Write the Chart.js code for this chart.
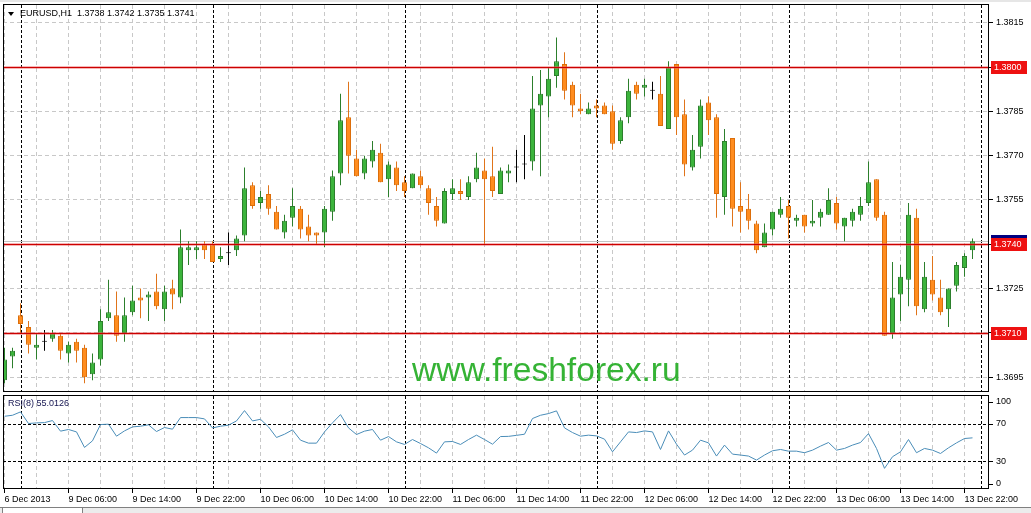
<!DOCTYPE html>
<html>
<head>
<meta charset="utf-8">
<script src="https://cdn.jsdelivr.net/npm/chart.js@4.4.1/dist/chart.umd.min.js"></script>
<style>
  html, body { margin: 0; padding: 0; background: #fff; }
  body { width: 1031px; height: 513px; position: relative; overflow: hidden; }
  #priceWrap { position: absolute; left: 0; top: 0; }
  #rsiWrap { position: absolute; left: 0; top: 393px; }
</style>
</head>
<body>
<div id="priceWrap"><canvas id="priceChart" width="1031" height="393"></canvas></div>
<div id="rsiWrap"><canvas id="rsiChart" width="1031" height="120"></canvas></div>
<script>
// EURUSD H1, 6 Dec 22:00 .. 13 Dec 23:00 (one bar per hour)
const opens = [
  1.3694, 1.3702, 1.3716, 1.3712, 1.3705, 1.3707, 1.3708, 1.3709, 1.3703, 1.3707,
  1.3705, 1.3696, 1.3701, 1.3715, 1.3716, 1.3710, 1.3717, 1.3722, 1.3722, 1.3724,
  1.3718, 1.3725, 1.3722, 1.3738, 1.3738, 1.3740, 1.3740, 1.3735, 1.3737, 1.3738,
  1.3743, 1.3760, 1.3754, 1.3757, 1.3751, 1.3744, 1.3749, 1.3752, 1.3746, 1.3744,
  1.3744, 1.3751, 1.3764, 1.3783, 1.3769, 1.3764, 1.3768, 1.3771, 1.3762, 1.3766,
  1.3761, 1.3759, 1.3763, 1.3759, 1.3753, 1.3747, 1.3757, 1.3758, 1.3756, 1.3762,
  1.3765, 1.3763, 1.3757, 1.3764, 1.3766, 1.3767, 1.3768, 1.3787, 1.3790, 1.3797,
  1.3801, 1.3794, 1.3786, 1.3784, 1.3787, 1.3787, 1.3785, 1.3775, 1.3783, 1.3794,
  1.3793, 1.3792, 1.3791, 1.3779, 1.3801, 1.3784, 1.3766, 1.3773, 1.3788, 1.3783,
  1.3756, 1.3776, 1.3753, 1.3752, 1.3747, 1.3739, 1.3745, 1.3750, 1.3753, 1.3748,
  1.3750, 1.3747, 1.3749, 1.3750, 1.3754, 1.3746, 1.3748, 1.3750, 1.3754, 1.3762,
  1.3750, 1.3710, 1.3723, 1.3728, 1.3749, 1.3718, 1.3728, 1.3722, 1.3718, 1.3726,
  1.3732, 1.3738
];
const highs = [
  1.3705, 1.3705, 1.3720, 1.3714, 1.3710, 1.3711, 1.3711, 1.3710, 1.3707, 1.3708,
  1.3706, 1.3703, 1.3718, 1.3728, 1.3724, 1.3722, 1.3726, 1.3725, 1.3724, 1.3730,
  1.3726, 1.3728, 1.3745, 1.3741, 1.3741, 1.3741, 1.3741, 1.3739, 1.3744, 1.3743,
  1.3766, 1.3761, 1.3758, 1.3760, 1.3753, 1.3750, 1.3759, 1.3753, 1.3750, 1.3744,
  1.3753, 1.3765, 1.3791, 1.3795, 1.3772, 1.3770, 1.3775, 1.3774, 1.3768, 1.3768,
  1.3763, 1.3764, 1.3765, 1.3760, 1.3756, 1.3759, 1.3762, 1.3762, 1.3763, 1.3771,
  1.3769, 1.3773, 1.3766, 1.3767, 1.3772, 1.3777, 1.3797, 1.3799, 1.3800, 1.3810,
  1.3805, 1.3795, 1.3791, 1.3788, 1.3789, 1.3788, 1.3787, 1.3783, 1.3796, 1.3795,
  1.3796, 1.3795, 1.3797, 1.3802, 1.3801, 1.3789, 1.3777, 1.3789, 1.3790, 1.3784,
  1.3779, 1.3776, 1.3761, 1.3757, 1.3748, 1.3747, 1.3751, 1.3756, 1.3755, 1.3750,
  1.3750, 1.3755, 1.3752, 1.3759, 1.3756, 1.3749, 1.3752, 1.3756, 1.3768, 1.3762,
  1.3751, 1.3734, 1.3733, 1.3754, 1.3752, 1.3734, 1.3736, 1.3728, 1.3725, 1.3734,
  1.3737, 1.3742
];
const lows = [
  1.3693, 1.3698, 1.3710, 1.3703, 1.3701, 1.3704, 1.3707, 1.3701, 1.3700, 1.3700,
  1.3693, 1.3694, 1.3699, 1.3714, 1.3707, 1.3707, 1.3716, 1.3715, 1.3714, 1.3718,
  1.3714, 1.3718, 1.3720, 1.3733, 1.3735, 1.3735, 1.3734, 1.3734, 1.3733, 1.3736,
  1.3741, 1.3752, 1.3752, 1.3750, 1.3745, 1.3742, 1.3746, 1.3742, 1.3741, 1.3740,
  1.3739, 1.3748, 1.3760, 1.3764, 1.3763, 1.3762, 1.3766, 1.3761, 1.3756, 1.3758,
  1.3756, 1.3759, 1.3759, 1.3750, 1.3746, 1.3747, 1.3755, 1.3755, 1.3755, 1.3761,
  1.3740, 1.3756, 1.3757, 1.3761, 1.3761, 1.3762, 1.3765, 1.3763, 1.3783, 1.3793,
  1.3789, 1.3783, 1.3784, 1.3784, 1.3783, 1.3784, 1.3772, 1.3774, 1.3781, 1.3789,
  1.3790, 1.3789, 1.3780, 1.3779, 1.3777, 1.3763, 1.3765, 1.3769, 1.3777, 1.3749,
  1.3750, 1.3746, 1.3744, 1.3745, 1.3737, 1.3739, 1.3743, 1.3749, 1.3742, 1.3746,
  1.3744, 1.3746, 1.3746, 1.3750, 1.3745, 1.3741, 1.3746, 1.3748, 1.3753, 1.3748,
  1.3709, 1.3708, 1.3714, 1.3719, 1.3716, 1.3717, 1.3721, 1.3716, 1.3712, 1.3724,
  1.3729, 1.3735
];
const closes = [
  1.3701, 1.3704, 1.3713, 1.3706, 1.3706, 1.3707, 1.3710, 1.3704, 1.3706, 1.3704,
  1.3695, 1.3700, 1.3714, 1.3717, 1.3709, 1.3716, 1.3721, 1.3721, 1.3723, 1.3719,
  1.3724, 1.3723, 1.3739, 1.3739, 1.3739, 1.3738, 1.3734, 1.3736, 1.3737, 1.3742,
  1.3759, 1.3753, 1.3756, 1.3752, 1.3745, 1.3748, 1.3753, 1.3745, 1.3743, 1.3743,
  1.3752, 1.3763, 1.3782, 1.3770, 1.3763, 1.3769, 1.3772, 1.3761, 1.3767, 1.3760,
  1.3758, 1.3764, 1.3760, 1.3754, 1.3748, 1.3758, 1.3759, 1.3757, 1.3761, 1.3766,
  1.3762, 1.3758, 1.3765, 1.3765, 1.3766, 1.3767, 1.3786, 1.3791, 1.3796, 1.3802,
  1.3792, 1.3787, 1.3785, 1.3786, 1.3786, 1.3784, 1.3774, 1.3782, 1.3792, 1.3791,
  1.3794, 1.3792, 1.3780, 1.3800, 1.3783, 1.3767, 1.3772, 1.3787, 1.3782, 1.3757,
  1.3775, 1.3752, 1.3751, 1.3748, 1.3738, 1.3744, 1.3751, 1.3752, 1.3749, 1.3749,
  1.3746, 1.3748, 1.3751, 1.3755, 1.3747, 1.3749, 1.3751, 1.3753, 1.3761, 1.3749,
  1.3709, 1.3722, 1.3729, 1.3750, 1.3719, 1.3729, 1.3723, 1.3717, 1.3725, 1.3733,
  1.3736, 1.3741
];
const rsiValues = [
  78.2, 79.3, 82.9, 70.4, 71.1, 71.4, 73.6, 62.2, 64.0, 61.4,
  44.7, 51.8, 69.3, 69.7, 56.8, 62.5, 66.8, 67.5, 69.0, 61.8,
  66.1, 64.3, 76.8, 76.8, 76.8, 75.4, 65.7, 67.5, 68.6, 73.2,
  84.3, 73.2, 75.0, 66.8, 55.4, 58.9, 63.6, 52.5, 49.3, 49.3,
  61.4, 71.1, 80.0, 65.7, 58.6, 62.2, 64.0, 52.5, 56.4, 50.7,
  47.9, 53.2, 48.9, 44.3, 38.6, 50.7, 51.1, 47.9, 53.2, 57.9,
  53.2, 48.2, 56.4, 56.6, 57.7, 58.9, 75.8, 79.3, 81.1, 84.0,
  65.7, 60.7, 56.8, 57.9, 57.1, 53.6, 40.0, 50.7, 61.4, 60.7,
  62.5, 61.4, 42.5, 62.5, 48.2, 36.5, 41.8, 52.5, 49.6, 35.4,
  47.2, 37.5, 36.5, 35.4, 31.1, 36.5, 41.1, 42.5, 40.7, 40.7,
  39.0, 41.8, 46.1, 50.0, 41.8, 43.6, 47.2, 50.0, 59.6, 43.6,
  22.2, 34.7, 40.0, 53.2, 39.0, 43.6, 41.8, 38.2, 44.3, 49.6,
  54.3, 55.0
];
// one label every 8 bars
const timeLabels = ['6 Dec 2013', '9 Dec 06:00', '9 Dec 14:00', '9 Dec 22:00', '10 Dec 06:00',
  '10 Dec 14:00', '10 Dec 22:00', '11 Dec 06:00', '11 Dec 14:00', '11 Dec 22:00', '12 Dec 06:00',
  '12 Dec 14:00', '12 Dec 22:00', '13 Dec 06:00', '13 Dec 14:00', '13 Dec 22:00'];
const priceTicks = [1.3695, 1.3710, 1.3725, 1.3740, 1.3755, 1.3770, 1.3785, 1.3800, 1.3815];
const levelPrices = [1.3800, 1.3740, 1.3710];
const bidPrice = 1.3741;
const rsiLevels = [30, 70];
const rsiTicks = [0, 30, 70, 100];
const daySeparators = [2, 26, 50, 74, 98, 122]; // first bar of each day
const headerText = 'EURUSD,H1  1.3738 1.3742 1.3735 1.3741';
const rsiText = 'RSI(8) 55.0126';
const watermark = 'www.freshforex.ru';

const barIndex = opens.map((_, i) => i);
const gridTicks = barIndex.filter(i => i % 4 === 0);

const X_MIN = -0.1875;
const X_MAX = X_MIN + 986 / 8;
const FONT = '"Liberation Sans", Arial, sans-serif';
Chart.defaults.font.family = FONT;
Chart.defaults.font.size = 9;
Chart.defaults.color = '#000';

function kind(i) {
  if (closes[i] > opens[i]) return 'up';
  if (closes[i] < opens[i]) return 'down';
  return 'doji';
}
const bodyFill = { up: '#3cb43c', down: '#ff8c1e', doji: '#000' };
const bodyEdge = { up: '#2c7f2c', down: '#dc6e0a', doji: '#000' };
const wickColor = { up: '#2c7f2c', down: '#e0741a', doji: '#000' };

function noPad(s) {
  s.paddingTop = 0; s.paddingBottom = 0; s.paddingLeft = 0; s.paddingRight = 0;
}

function xScale(showTicks) {
  return {
    type: 'linear', min: X_MIN, max: X_MAX, offset: false,
    afterBuildTicks: s => { s.ticks = gridTicks.map(v => ({ value: v })); },
    ticks: {
      display: showTicks, autoSkip: false, maxRotation: 0, minRotation: 0,
      align: 'start', padding: 1, color: '#000', font: { size: 9 },
      callback: v => (v % 8 === 0 ? timeLabels[v / 8] : '')
    },
    grid: {
      offset: false, color: '#c8c8c8', lineWidth: 1,
      drawTicks: showTicks, tickLength: 4, tickBorderDash: [],
      tickColor: ctx => (ctx.index % 2 === 0 ? '#000' : 'rgba(0,0,0,0)')
    },
    border: { display: false, dash: [4, 3] },
    afterFit: s => { s.height = showTicks ? 24 : 0; noPad(s); }
  };
}

function drawSeparators(chart) {
  const { ctx, chartArea, scales } = chart;
  ctx.save();
  ctx.strokeStyle = '#000';
  ctx.lineWidth = 1;
  ctx.setLineDash([3, 2]);
  daySeparators.forEach(i => {
    const px = Math.round(scales.x.getPixelForValue(i)) + 0.5;
    ctx.beginPath();
    ctx.moveTo(px, chartArea.top);
    ctx.lineTo(px, chartArea.bottom);
    ctx.stroke();
  });
  ctx.restore();
}

function drawFrame(chart) {
  const { ctx, chartArea } = chart;
  ctx.save();
  ctx.strokeStyle = '#000';
  ctx.lineWidth = 1;
  ctx.strokeRect(chartArea.left + 0.5, chartArea.top - 0.5,
    chartArea.right - chartArea.left - 1, chartArea.bottom - chartArea.top);
  ctx.restore();
}

const pricePlugin = {
  id: 'pricePlugin',
  beforeDatasetsDraw(chart) {
    const { ctx, chartArea, scales } = chart;
    drawSeparators(chart);
    ctx.save();
    // bid line
    const by = Math.round(scales.y.getPixelForValue(bidPrice)) + 0.5;
    ctx.strokeStyle = '#c4c4c4';
    ctx.beginPath();
    ctx.moveTo(chartArea.left, by);
    ctx.lineTo(chartArea.right, by);
    ctx.stroke();
    // watermark
    ctx.fillStyle = '#35b335';
    ctx.font = '33.6px ' + FONT;
    ctx.textBaseline = 'alphabetic';
    ctx.fillText(watermark, 412, 381);
    ctx.restore();
  },
  afterDatasetsDraw(chart) {
    const { ctx, chartArea, scales } = chart;
    ctx.save();
    levelPrices.forEach(p => {
      const py = Math.round(scales.y.getPixelForValue(p));
      ctx.fillStyle = 'rgba(235, 90, 90, 0.45)';
      ctx.fillRect(chartArea.left + 1, py - 1, chartArea.right - chartArea.left - 2, 3);
      ctx.fillStyle = '#cc0000';
      ctx.fillRect(chartArea.left + 1, py, chartArea.right - chartArea.left - 2, 1);
    });
    ctx.restore();
  },
  afterDraw(chart) {
    const { ctx, scales } = chart;
    drawFrame(chart);
    ctx.save();
    ctx.font = '9px ' + FONT;
    ctx.textBaseline = 'middle';
    // header
    ctx.fillStyle = '#000';
    ctx.beginPath();
    ctx.moveTo(8, 12); ctx.lineTo(14, 12); ctx.lineTo(11, 16); ctx.closePath();
    ctx.fill();
    ctx.fillText(headerText, 20, 14);
    // price boxes
    const box = (p, color) => {
      const py = Math.round(scales.y.getPixelForValue(p));
      ctx.fillStyle = color;
      ctx.fillRect(991, py - 6, 36, 13);
      ctx.fillStyle = '#fff';
      ctx.fillText(p.toFixed(4), 994, py + 0.5);
    };
    box(bidPrice, '#000080');
    levelPrices.forEach(p => box(p, '#ee1111'));
    // window top strip
    ctx.fillStyle = '#e6e6e6';
    ctx.fillRect(0, 0, 1031, 2);
    ctx.restore();
  }
};

new Chart(document.getElementById('priceChart'), {
  type: 'bar',
  data: {
    datasets: [
      {
        label: 'wick',
        data: barIndex.map(i => ({ x: i, y: [lows[i], highs[i]] })),
        backgroundColor: barIndex.map(i => wickColor[kind(i)]),
        borderWidth: 0, barThickness: 1, grouped: false, order: 2, inflateAmount: 0
      },
      {
        label: 'body',
        data: barIndex.map(i => ({ x: i, y: [opens[i], closes[i]] })),
        backgroundColor: barIndex.map(i => bodyFill[kind(i)]),
        borderColor: barIndex.map(i => bodyEdge[kind(i)]),
        borderWidth: 1, borderSkipped: false, barThickness: 5, minBarLength: 1,
        grouped: false, order: 1, inflateAmount: 0
      }
    ]
  },
  options: {
    responsive: false,
    animation: false,
    layout: { padding: { left: 3, top: 5, right: 0, bottom: 1 } },
    plugins: { legend: { display: false }, tooltip: { enabled: false } },
    scales: {
      x: xScale(false),
      y: {
        position: 'right', min: 1.3690, max: 1.3821, beginAtZero: false,
        afterBuildTicks: s => { s.ticks = priceTicks.map(v => ({ value: v })); },
        afterFit: s => { s.width = 42; noPad(s); },
        ticks: { callback: v => v.toFixed(4), padding: 3, color: '#000', font: { size: 9 } },
        grid: { color: '#c8c8c8', tickColor: '#000', tickLength: 4, tickBorderDash: [] },
        border: { display: false, dash: [4, 3] }
      }
    }
  },
  plugins: [pricePlugin]
});

const rsiPlugin = {
  id: 'rsiPlugin',
  beforeDatasetsDraw(chart) {
    const { ctx, chartArea, scales } = chart;
    drawSeparators(chart);
    ctx.save();
    ctx.strokeStyle = '#000';
    ctx.setLineDash([3, 2]);
    rsiLevels.forEach(v => {
      const py = Math.round(scales.y.getPixelForValue(v)) + 0.5;
      ctx.beginPath();
      ctx.moveTo(chartArea.left, py);
      ctx.lineTo(chartArea.right, py);
      ctx.stroke();
    });
    ctx.restore();
  },
  afterDraw(chart) {
    const { ctx, chartArea, scales } = chart;
    drawFrame(chart);
    ctx.save();
    ctx.font = '9px ' + FONT;
    ctx.textBaseline = 'middle';
    ctx.fillStyle = '#141450';
    ctx.fillText(rsiText, 8, chartArea.top + 8);
    ctx.fillStyle = '#000';
    rsiTicks.forEach(v => {
      let py = scales.y.getPixelForValue(v);
      py = Math.min(Math.max(py, chartArea.top + 6), chartArea.bottom - 5.5);
      ctx.fillText(String(v), 996, py);
      ctx.fillRect(989, Math.round(py), 4, 1);
    });
    // terminal tab strip at the bottom of the window
    ctx.fillStyle = '#ececec';
    ctx.fillRect(0, 114, 1031, 6);
    ctx.fillStyle = '#808080';
    ctx.fillRect(0, 114, 1031, 1);
    ctx.fillStyle = '#fff';
    ctx.fillRect(2, 115, 80, 5);
    ctx.strokeStyle = '#808080';
    ctx.strokeRect(2.5, 114.5, 80, 6);
    ctx.restore();
  }
};

new Chart(document.getElementById('rsiChart'), {
  type: 'line',
  data: {
    datasets: [{
      label: 'RSI(8)',
      data: barIndex.map(i => ({ x: i, y: rsiValues[i] })),
      borderColor: '#4a8db8', borderWidth: 1, pointRadius: 0, tension: 0, fill: false
    }]
  },
  options: {
    responsive: false,
    animation: false,
    layout: { padding: { left: 3, top: 3, right: 0, bottom: 0 } },
    plugins: { legend: { display: false }, tooltip: { enabled: false } },
    scales: {
      x: xScale(true),
      y: {
        position: 'right', min: 0, max: 100,
        afterFit: s => { s.width = 42; noPad(s); },
        ticks: { display: false },
        grid: { display: false },
        border: { display: false }
      }
    }
  },
  plugins: [rsiPlugin]
});
</script>
</body>
</html>
